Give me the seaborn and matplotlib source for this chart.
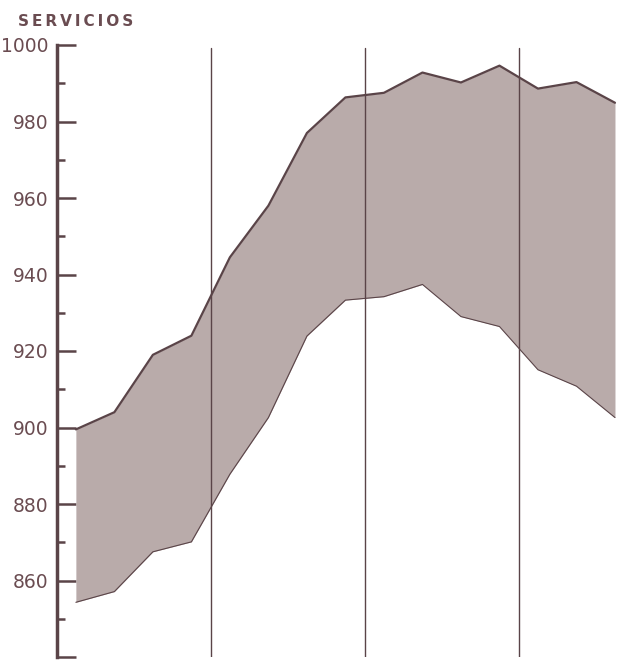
import numpy as np
import pandas as pd
import matplotlib
matplotlib.use("Agg")
import matplotlib.pyplot as plt
import seaborn as sns

# quarterly points, year separators between every four
periodo = list(range(15))
maximo = [899.5, 904, 919, 924, 944.5, 958, 977, 986.3, 987.5, 992.8,
          990.2, 994.6, 988.6, 990.3, 984.9]
minimo = [854.3, 857.1, 867.5, 870.1, 887.8, 902.6, 923.9, 933.3, 934.2, 937.4,
          929, 926.4, 915.1, 910.8, 902.6]
separadores = [3.5, 7.5, 11.5]
yticks_major = [840, 860, 880, 900, 920, 940, 960, 980, 1000]
ytick_labels = ["", "860", "880", "900", "920", "940", "960", "980", "1000"]

df = pd.DataFrame({"periodo": periodo, "maximo": maximo, "minimo": minimo})

sns.set_style("white")
plt.rcParams['font.family'] = ['DejaVu Sans']

fill_c = "#b9abaa"
line_c = "#5a4448"
text_c = "#6a4c51"

fig = plt.figure(figsize=(6.3, 6.6), dpi=100)
ax = fig.add_axes([57 / 630, 3 / 660, 573 / 630, 612 / 660])

ax.fill_between(df["periodo"], df["minimo"], df["maximo"], color=fill_c, lw=0)
sns.lineplot(data=df, x="periodo", y="maximo", ax=ax, color=line_c, lw=1.6)
sns.lineplot(data=df, x="periodo", y="minimo", ax=ax, color=line_c, lw=0.8)

for s in separadores:
    ax.plot([s, s], [999.2, 840], color=line_c, lw=1.0, zorder=3)

ax.set_xlim(-0.49, 14.39)
ax.set_ylim(840, 1000)
ax.set_xlabel("")
ax.set_ylabel("")
ax.set_xticks([])
ax.set_yticks(yticks_major)
ax.set_yticklabels(ytick_labels)
ax.set_yticks(np.arange(850, 1000, 20), minor=True)
ax.tick_params(axis="y", which="major", direction="in", length=14, width=1.8,
               color=line_c, labelcolor=text_c, labelsize=13.5, pad=6, left=True)
ax.tick_params(axis="y", which="minor", direction="in", length=6, width=1.8,
               color=line_c, left=True)

for side in ["top", "right", "bottom"]:
    ax.spines[side].set_visible(False)
ax.spines["left"].set_color(line_c)
ax.spines["left"].set_linewidth(2.5)

fig.text(18 / 630, 1 - 22 / 660, "S\u2009E\u2009R\u2009V\u2009I\u2009C\u2009I\u2009O\u2009S",
         color=text_c, fontsize=11, fontweight="bold", va="center", ha="left")

fig.savefig("out.png", dpi=100)
